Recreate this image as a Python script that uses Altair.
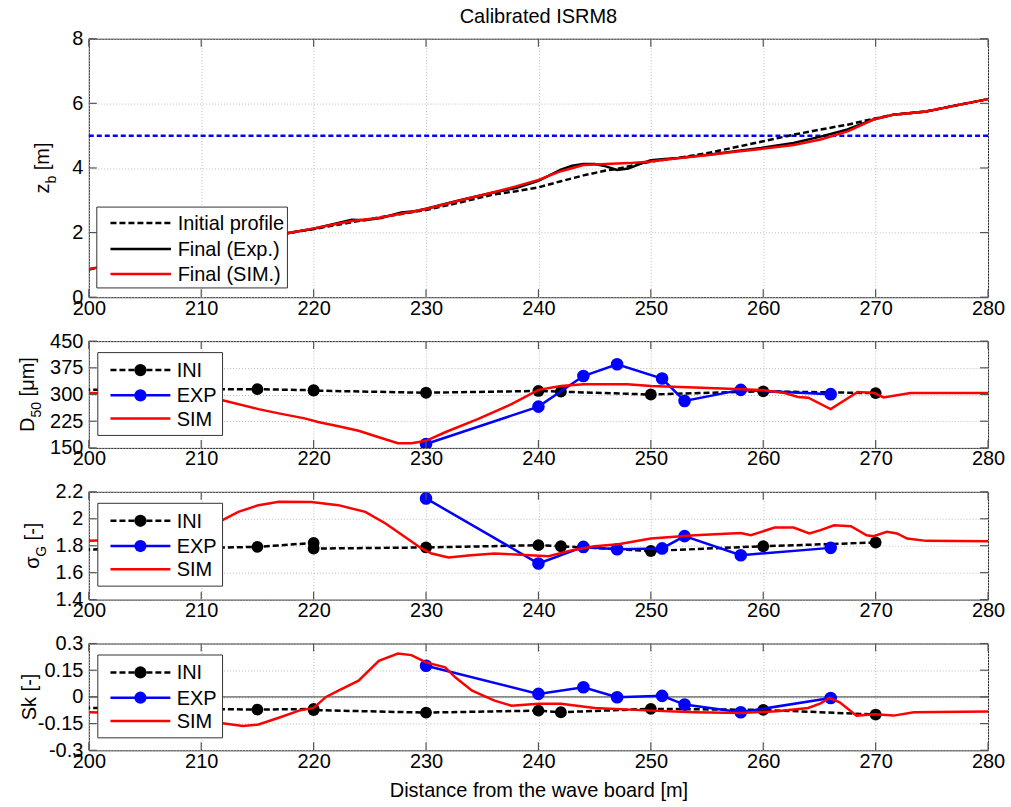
import altair as alt
import pandas as pd

FONT = "Liberation Sans"

# ---------------------------------------------------------------- axes
X_TICKS = [200, 210, 220, 230, 240, 250, 260, 270, 280]
ZB_TICKS = [0, 2, 4, 6, 8]
D50_TICKS = [150, 225, 300, 375, 450]
SG_TICKS = [1.4, 1.6, 1.8, 2, 2.2]
SK_TICKS = [-0.3, -0.15, 0, 0.15, 0.3]

# ---------------------------------------------------------------- bed profile z_b [m]
sim_prof_x = [200, 203, 206, 209, 212, 215, 217.7, 220, 223.4, 225.7, 228, 230, 233.1,
              236, 238, 240, 242, 244, 246, 248, 250, 252.4, 255.3, 257.5, 259.8, 262.7,
              265.1, 267.5, 269.8, 271.6, 274.5, 277.5, 280]
sim_prof_z = [0.87, 1.05, 1.25, 1.45, 1.65, 1.84, 1.98, 2.13, 2.36, 2.45, 2.60, 2.73, 3.00,
              3.25, 3.43, 3.63, 3.90, 4.09, 4.12, 4.15, 4.20, 4.30, 4.41, 4.50, 4.59, 4.71,
              4.88, 5.13, 5.50, 5.65, 5.75, 5.96, 6.13]

exp_prof_x = [205, 210, 215, 218, 220, 222, 223.4, 224.5, 226, 227.8, 229, 230, 233, 236,
              238, 240, 242, 243, 244, 245, 246, 247, 248, 249, 250, 251, 252.4, 255.3,
              257.5, 259.8, 262.7, 265.1, 267.5, 269.8, 271.6, 274.5, 277.5, 280]
exp_prof_z = [1.30, 1.60, 1.85, 2.00, 2.12, 2.28, 2.40, 2.38, 2.45, 2.62, 2.66, 2.74, 3.00,
              3.24, 3.38, 3.60, 3.95, 4.07, 4.12, 4.12, 4.05, 3.94, 3.98, 4.12, 4.24, 4.27,
              4.31, 4.42, 4.52, 4.62, 4.77, 4.97, 5.19, 5.50, 5.65, 5.75, 5.96, 6.13]

ini_prof_x = [200, 205, 210, 215, 220, 225, 230, 233, 236, 238, 240, 242, 244, 246, 247,
              248, 250, 252.4, 255.3, 259.8, 262.7, 265.1, 267.5, 269.8, 271.6, 274.5,
              277.5, 280]
ini_prof_z = [0.86, 1.20, 1.58, 1.83, 2.11, 2.42, 2.70, 2.93, 3.18, 3.28, 3.40, 3.59, 3.77,
              3.92, 3.97, 4.05, 4.20, 4.31, 4.48, 4.81, 5.03, 5.19, 5.34, 5.52, 5.65, 5.75,
              5.96, 6.13]

SWL = [5.0]

# ---------------------------------------------------------------- sediment samples
ini_x = [190, 215, 220, 220, 230, 240, 242, 250, 260, 270]
ini_d50 = [312, 315, 312, 311, 305, 310, 308, 300, 309, 304]
ini_sg = [1.759, 1.791, 1.821, 1.779, 1.787, 1.804, 1.796, 1.761, 1.796, 1.824]
ini_sk = [-0.056, -0.071, -0.068, -0.074, -0.088, -0.077, -0.086, -0.067, -0.073, -0.099]

exp_x = [230, 240, 244, 247, 251, 253, 258, 266]
exp_d50 = [161, 266, 352, 385, 345, 282, 313, 301]
exp_sg = [2.151, 1.668, 1.791, 1.774, 1.780, 1.871, 1.729, 1.784]
exp_sk = [0.175, 0.017, 0.054, -0.002, 0.006, -0.043, -0.086, -0.006]

sim_d50_x = [200, 203, 206, 209, 211.9, 215.1, 216.9, 219.2, 220.4, 222.2, 224, 225.8,
             227.5, 228.7, 230, 231.7, 234.6, 237.6, 240, 242, 244, 247.9, 250, 253.9,
             256.9, 259.8, 261.9, 263.1, 264, 266, 268.4, 269.9, 270.7, 273.1, 280]
sim_d50 = [304, 303, 298, 291, 284, 259, 247, 233, 223, 211, 198, 180,
           163, 163, 170, 194, 231, 273, 313, 324, 329, 329, 324, 320,
           316, 313, 304, 293, 291, 259, 307, 304, 292, 304, 304]

sim_sg_x = [200, 203, 206, 209, 211.9, 213.3, 215.1, 216.9, 219.8, 222.2, 224.6, 226.4,
            228.1, 229.6, 230.5, 232, 234, 236.1, 238, 240.9, 243, 245, 247.1, 250, 253.9,
            258, 258.9, 261, 262.7, 264.1, 265.1, 266.3, 267.8, 269.2, 269.8, 271, 271.9,
            272.8, 274.5, 280]
sim_sg = [1.836, 1.845, 1.880, 1.930, 1.990, 2.051, 2.101, 2.126, 2.124, 2.101, 2.051, 1.965,
          1.866, 1.780, 1.742, 1.712, 1.730, 1.742, 1.735, 1.722, 1.767, 1.796, 1.811, 1.853,
          1.878, 1.895, 1.878, 1.935, 1.935, 1.891, 1.916, 1.952, 1.945, 1.878, 1.871, 1.903,
          1.891, 1.853, 1.836, 1.833]

sim_sk_x = [200, 203, 206, 209, 211.9, 213.7, 215.1, 216.9, 218.7, 220, 221.1, 222.2, 224,
            225.8, 227.5, 228.7, 230, 231.7, 232.6, 234.1, 236.1, 237.6, 240, 242, 245, 250,
            253.9, 258, 261.2, 264, 265.1, 265.9, 266.8, 268.3, 269.9, 271.6, 273.4, 280]
sim_sk = [-0.086, -0.090, -0.100, -0.120, -0.148, -0.164, -0.155, -0.117, -0.077, -0.062,
          0.000, 0.035, 0.091, 0.203, 0.244, 0.235, 0.194, 0.166, 0.110, 0.035, -0.021,
          -0.049, -0.039, -0.039, -0.062, -0.077, -0.086, -0.090, -0.080, -0.062, -0.036,
          -0.006, -0.030, -0.105, -0.097, -0.105, -0.086, -0.082]

# ---------------------------------------------------------------- style
BLACK, BLUE, RED = "#000000", "#0000ff", "#ff0000"
FS = 20
PLOT_W = 901
TICK_LEN = 8

# rough Arial advance widths (em) for laying out rotated y labels
ADV = {" ": 0.278, "[": 0.278, "]": 0.278, "m": 0.833, "z": 0.5, "b": 0.556, "D": 0.722,
       "5": 0.556, "0": 0.556, "μ": 0.576, "σ": 0.6, "G": 0.778, "-": 0.333, "S": 0.667,
       "k": 0.5}


def text_w(s, fs):
    return sum(ADV.get(c, 0.556) for c in s) * fs


def one(**kw):
    return pd.DataFrame({k: [v] for k, v in kw.items()} or {"k": [0]})


def x_enc(bottom_title=None):
    return alt.X("x:Q", scale=alt.Scale(domain=[200, 280], nice=False, zero=False),
                 axis=alt.Axis(values=X_TICKS, tickCount=len(X_TICKS), title=bottom_title,
                               labelFlush=False, labelOverlap=False, labelPadding=1,
                               titlePadding=9))


def y_enc(lo, hi, ticks):
    return alt.Y("v:Q", scale=alt.Scale(domain=[lo, hi], nice=False, zero=False),
                 axis=alt.Axis(values=ticks, tickCount=len(ticks), title=None,
                               labelFlush=False, labelOverlap=False, labelPadding=6,
                               labelExpr="'' + datum.value"))


def series(xs, vs, color, dash=None, width=2.5, points=False, size=150, xe=None, ye=None):
    df = pd.DataFrame({"x": xs, "v": vs, "i": list(range(len(xs)))})
    kw = dict(color=color, strokeWidth=width, clip=True)
    if dash:
        kw["strokeDash"] = dash
    out = [alt.Chart(df).mark_line(**kw).encode(x=xe, y=ye, order="i:Q")]
    if points:
        out.append(alt.Chart(df).mark_point(filled=True, color=color, opacity=1, size=size,
                                            clip=True).encode(x=xe, y=ye))
    return out


def inner_ticks(h, yticks):
    """Short inward tick marks on all four sides of a panel."""
    xt = pd.DataFrame({"x": X_TICKS})
    yt = pd.DataFrame({"v": yticks})
    st = dict(color="#555555", strokeWidth=1.2)
    return [
        alt.Chart(xt).mark_rule(**st).encode(x="x:Q", y=alt.value(0), y2=alt.value(TICK_LEN)),
        alt.Chart(xt).mark_rule(**st).encode(x="x:Q", y=alt.value(h), y2=alt.value(h - TICK_LEN)),
        alt.Chart(yt).mark_rule(**st).encode(y="v:Q", x=alt.value(0), x2=alt.value(TICK_LEN)),
        alt.Chart(yt).mark_rule(**st).encode(y="v:Q", x=alt.value(PLOT_W),
                                             x2=alt.value(PLOT_W - TICK_LEN)),
    ]


def legend_box(x0, x1, y0, y1, entries, rows, seg=(21.7, 81.7), text_x=88):
    out = [alt.Chart(one()).mark_rect(fill="white", stroke="#333333", strokeWidth=1).encode(
        x=alt.value(x0), x2=alt.value(x1), y=alt.value(y0), y2=alt.value(y1))]
    for (label, color, dash, marker, width), ry in zip(entries, rows):
        kw = dict(color=color, strokeWidth=width)
        if dash:
            kw["strokeDash"] = dash
        out.append(alt.Chart(one()).mark_rule(**kw).encode(
            x=alt.value(seg[0]), x2=alt.value(seg[1]), y=alt.value(ry)))
        if marker:
            out.append(alt.Chart(one()).mark_point(filled=True, color=color, opacity=1,
                                                   size=150).encode(
                x=alt.value((seg[0] + seg[1]) / 2), y=alt.value(ry)))
        out.append(alt.Chart(one(t=label)).mark_text(
            align="left", baseline="middle", font=FONT, fontSize=FS, color="black").encode(
            x=alt.value(text_x), y=alt.value(ry + 1), text="t:N"))
    return out


def y_title(parts, base_x, center_y):
    """Rotated y label built from pieces so that subscripts can be lowered.

    Leading blanks are turned into an advance, since SVG drops them."""
    total = sum(text_w(t, fs) for t, fs, _ in parts)
    y = center_y + total / 2
    out = []
    for t, fs, shift in parts:
        lead = len(t) - len(t.lstrip(" "))
        y -= text_w(" " * lead, fs)
        body = t.lstrip(" ")
        out.append(alt.Chart(one(t=body)).mark_text(
            angle=270, align="left", baseline="alphabetic", font=FONT, fontSize=fs,
            color="black").encode(x=alt.value(base_x + shift), y=alt.value(y), text="t:N"))
        y -= text_w(body, fs)
    return out


SUB = 14
SUB_SHIFT = 7

# ---------------------------------------------------------------- panel 1: profiles
H1 = 259
xe1, ye1 = x_enc(), y_enc(0, 8, ZB_TICKS)
p1_layers = (
    [alt.Chart(pd.DataFrame({"v": SWL})).mark_rule(color=BLUE, strokeWidth=2.5,
                                                   strokeDash=[5, 3]).encode(y="v:Q")]
    + series(ini_prof_x, ini_prof_z, BLACK, dash=[6, 3], width=2.5, xe=xe1, ye=ye1)
    + series(exp_prof_x, exp_prof_z, BLACK, width=2.5, xe=xe1, ye=ye1)
    + series(sim_prof_x, sim_prof_z, RED, width=2.5, xe=xe1, ye=ye1)
    + inner_ticks(H1, ZB_TICKS)
    + legend_box(8, 199, 168.7, 249.7,
                 [("Initial profile", BLACK, [6, 3], False, 2.5),
                  ("Final (Exp.)", BLACK, None, False, 2.5),
                  ("Final (SIM.)", RED, None, False, 2.5)],
                 [184.7, 210.7, 235.7], seg=(21.7, 82.3), text_x=89)
    + y_title([("z", FS, 0), ("b", SUB, SUB_SHIFT), (" [m]", FS, 0)], -40, H1 / 2)
)
p1 = alt.layer(*p1_layers).properties(
    width=PLOT_W, height=H1,
    title=alt.TitleParams("Calibrated ISRM8", fontSize=FS, fontWeight="normal", font=FONT,
                          color="black", offset=2))

SAMPLE_LEG = [("INI", BLACK, [6, 3], True, 2.5),
              ("EXP", BLUE, None, True, 2.5),
              ("SIM", RED, None, False, 2.5)]


def sample_panel(h, lo, hi, ticks, ini_v, exp_v, sim_x, sim_v, title_parts, title_x,
                 bottom_title=None, zero_line=False):
    xe, ye = x_enc(bottom_title), y_enc(lo, hi, ticks)
    layers = []
    if zero_line:
        layers.append(alt.Chart(pd.DataFrame({"v": [0]})).mark_rule(
            color="#333333", strokeWidth=1).encode(y="v:Q"))
    layers += series(ini_x, ini_v, BLACK, dash=[6, 3], width=2.5, points=True, size=140,
                     xe=xe, ye=ye)
    layers += series(exp_x, exp_v, BLUE, width=2.5, points=True, size=160, xe=xe, ye=ye)
    layers += series(sim_x, sim_v, RED, width=2.5, xe=xe, ye=ye)
    layers += inner_ticks(h, ticks)
    layers += legend_box(9, 134, 11.5, 94.5, SAMPLE_LEG, [29, 54.3, 77.6])
    layers += y_title(title_parts, title_x, h / 2)
    return alt.layer(*layers).properties(width=PLOT_W, height=h)


p2 = sample_panel(107, 150, 450, D50_TICKS, ini_d50, exp_d50, sim_d50_x, sim_d50,
                  [("D", FS, 0), ("50", SUB, SUB_SHIFT), (" [μm]", FS, 0)], -55)
p3 = sample_panel(108, 1.4, 2.2, SG_TICKS, ini_sg, exp_sg, sim_sg_x, sim_sg,
                  [("σ", FS, 0), ("G", SUB, SUB_SHIFT), (" [-]", FS, 0)], -50)
p4 = sample_panel(107, -0.3, 0.3, SK_TICKS, ini_sk, exp_sk, sim_sk_x, sim_sk,
                  [("Sk [-]", FS, 0)], -53,
                  bottom_title="Distance from the wave board [m]", zero_line=True)

chart = (
    alt.vconcat(p1, p2, p3, p4, spacing=11)
    .properties(padding={"left": 17, "top": 5, "right": 5, "bottom": 5},
                background="white")
    .configure_view(stroke="#262626", strokeWidth=1)
    .configure_axis(
        labelFont=FONT, labelFontSize=FS, labelColor="black",
        titleFont=FONT, titleFontSize=FS, titleFontWeight="normal", titleColor="black",
        ticks=False, domain=False, grid=True, gridColor="#bdbdbd",
        gridDash=[1, 2], gridWidth=1)
)

chart.save("out.html", embed_options={"renderer": "svg", "actions": False})
